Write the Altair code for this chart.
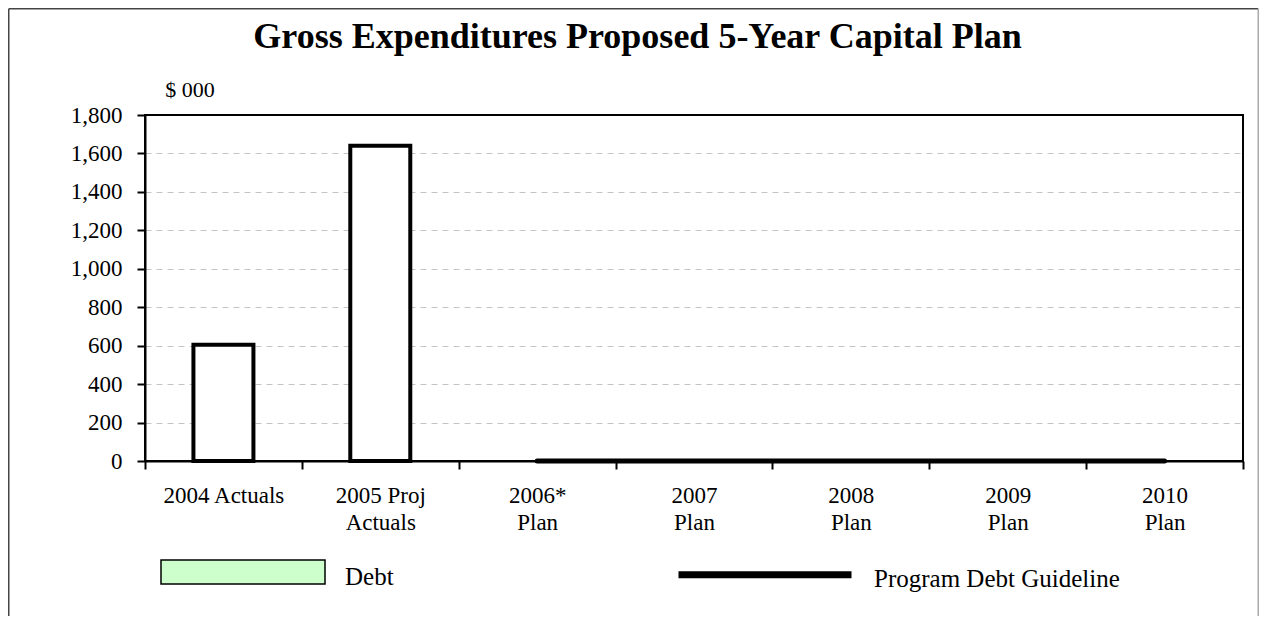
import altair as alt
import pandas as pd

TITLE = "Gross Expenditures Proposed 5-Year Capital Plan"
UNIT = "$ 000"
categories = ["2004 Actuals", "2005 Proj\nActuals", "2006*\nPlan", "2007\nPlan",
              "2008\nPlan", "2009\nPlan", "2010\nPlan"]
debt = [605, 1640, 0, 0, 0, 0, 0]
guideline = [None, None, 0, 0, 0, 0, 0]
y_ticks = [0, 200, 400, 600, 800, 1000, 1200, 1400, 1600, 1800]

FONT = "Liberation Serif"

df = pd.DataFrame({
    "category": categories,
    "debt": debt,
    "guideline": guideline,
    "s1": ["Debt"] * len(categories),
    "s2": ["Program Debt Guideline"] * len(categories),
})
one = pd.DataFrame({"k": [0]})

x_enc = alt.X(
    "category:N",
    sort=categories,
    scale=alt.Scale(domain=categories, paddingInner=0, paddingOuter=0),
    axis=alt.Axis(
        title=None, labelAngle=0, labelFont=FONT, labelFontSize=23, labelColor="black",
        labelExpr="split(datum.label, '\\n')", labelLineHeight=27, labelBaseline="top",
        labelPadding=15, tickSize=8, tickWidth=2, tickColor="black", tickBand="extent",
        domainColor="black", domainWidth=2, grid=False,
    ),
)


def y_enc(field):
    return alt.Y(
        field,
        scale=alt.Scale(domain=[0, 1800], nice=False),
        axis=alt.Axis(
            values=y_ticks, format=",.0f", title=UNIT, titleAngle=0, titleX=44.5,
            titleY=-25.5, titleAlign="center", titleBaseline="middle", titleFont=FONT,
            titleFontSize=22, titleFontWeight="normal", titleColor="black",
            labelFont=FONT, labelFontSize=23, labelColor="black", labelPadding=15,
            tickSize=8, tickWidth=2, tickColor="black", domainColor="black", domainWidth=2,
            grid=True, gridDash=[6, 5], gridColor="#c4c4c4", gridWidth=1,
            gridOpacity={"condition": {"test": "datum.value >= 1800 || datum.value <= 0",
                                       "value": 0}, "value": 1},
        ),
    )


bars = alt.Chart(df).transform_filter("datum.debt > 0").mark_bar(
    width=alt.RelativeBandSize(0.3825), strokeWidth=4, strokeJoin="miter"
).encode(
    x=x_enc,
    y=y_enc("debt:Q"),
    fill=alt.condition("true", alt.value("white"), alt.value("#CCFFCC")),
    stroke=alt.Stroke(
        "s1:N",
        scale=alt.Scale(domain=["Debt"], range=["black"]),
        legend=alt.Legend(
            orient="none", legendX=15, legendY=379, title=None, padding=0,
            symbolType="M-1,-0.207H1V0.085H-1Z", symbolSize=26896,
            symbolFillColor="#CCFFCC", symbolStrokeColor="black", symbolStrokeWidth=1.5,
            labelFont=FONT, labelFontSize=25, labelColor="black", labelOffset=19,
            labelLimit=400,
        ),
    ),
)

line = alt.Chart(df).transform_filter("isValid(datum.guideline)").mark_line(
    color="black", strokeWidth=5, strokeCap="round"
).encode(
    x=x_enc,
    y=y_enc("guideline:Q"),
    strokeDash=alt.StrokeDash(
        "s2:N",
        scale=alt.Scale(domain=["Program Debt Guideline"], range=[[1, 0]]),
        legend=alt.Legend(
            orient="none", legendX=530, legendY=374, title=None, padding=0,
            symbolType="M-1,-0.048H1", symbolSize=29929, symbolStrokeWidth=7,
            symbolStrokeColor="black",
            labelFont=FONT, labelFontSize=25, labelColor="black", labelOffset=19,
            labelLimit=400,
        ),
    ),
)

title = alt.Chart(one).mark_text(
    text=TITLE, font=FONT, fontSize=36, fontWeight="bold", align="center",
    baseline="alphabetic", color="black",
).encode(x=alt.value(492.5), y=alt.value(-67))

border_left = alt.Chart(one).mark_rule(color="#444444", strokeWidth=1.5).encode(
    x=alt.value(-136.25), y=alt.value(-106.25), y2=alt.value(520))
border_top = alt.Chart(one).mark_rule(color="#444444", strokeWidth=1.5).encode(
    x=alt.value(-136.25), x2=alt.value(1113.25), y=alt.value(-106.25))
border_right = alt.Chart(one).mark_rule(color="#aaaaaa", strokeWidth=1.5).encode(
    x=alt.value(1113.25), y=alt.value(-106.25), y2=alt.value(520))

chart = alt.layer(bars, line, title, border_left, border_top, border_right).resolve_legend(
    stroke="independent", strokeDash="independent"
).properties(
    width=1098, height=346,
    autosize=alt.AutoSizeParams(type="none"),
    padding={"left": 137, "top": 107, "right": 16, "bottom": 155},
    background="white",
).configure_view(stroke="black", strokeWidth=2)

chart.save("out.html", embed_options={"renderer": "svg", "actions": False})
